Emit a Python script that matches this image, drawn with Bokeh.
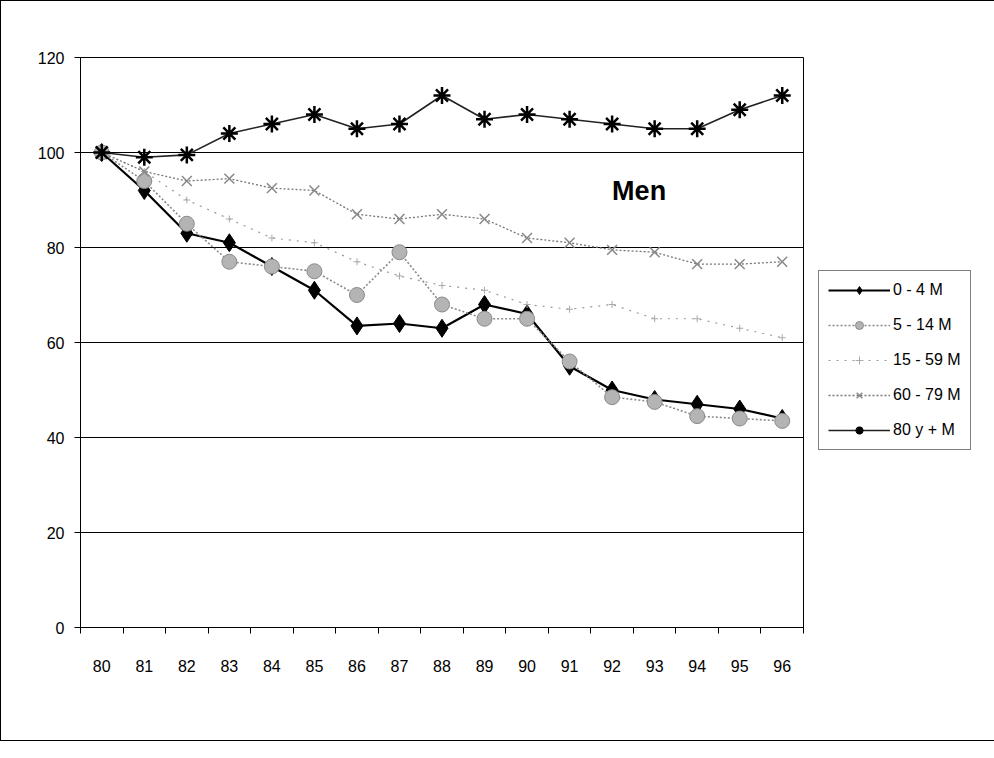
from bokeh.plotting import figure
from bokeh.models import Legend, LegendItem, FixedTicker, Label
from bokeh.embed import file_html
from bokeh.resources import INLINE

years = [80, 81, 82, 83, 84, 85, 86, 87, 88, 89, 90, 91, 92, 93, 94, 95, 96]
year_labels = [str(y) for y in years]

m_0_4 = [100, 92, 83, 81, 76, 71, 63.5, 64, 63, 68, 66, 55, 50, 48, 47, 46, 44]
m_5_14 = [100, 94, 85, 77, 76, 75, 70, 79, 68, 65, 65, 56, 48.5, 47.5, 44.5, 44, 43.5]
m_15_59 = [100, 96, 90, 86, 82, 81, 77, 74, 72, 71, 68, 67, 68, 65, 65, 63, 61]
m_60_79 = [100, 96, 94, 94.5, 92.5, 92, 87, 86, 87, 86, 82, 81, 79.5, 79, 76.5, 76.5, 77]
m_80p = [100, 99, 99.5, 104, 106, 108, 105, 106, 112, 107, 108, 107, 106, 105, 105, 109, 112]

series_names = ["0 - 4 M", "5 - 14 M", "15 - 59 M", "60 - 79 M", "80 y + M"]
y_ticks = [0, 20, 40, 60, 80, 100, 120]

FONT = "Liberation Sans"

p = figure(frame_width=723, frame_height=570, output_backend="svg", toolbar_location=None,
           x_range=(79.5, 96.5), y_range=(0, 120),
           min_border_left=79, min_border_top=56, min_border_right=176, min_border_bottom=113)
p.styles = {"border": "1px solid black"}
p.outline_line_color = "black"
p.outline_line_width = 1
p.xgrid.grid_line_color = None
p.ygrid.grid_line_color = "black"
p.ygrid.grid_line_width = 1

p.yaxis.ticker = FixedTicker(ticks=y_ticks)
p.yaxis.major_tick_out = 6
p.yaxis.major_tick_in = 0
p.yaxis.minor_tick_out = 0
p.yaxis.minor_tick_in = 0
p.yaxis.major_label_standoff = 10
p.yaxis.axis_line_color = "black"
p.yaxis.major_label_text_font = FONT
p.yaxis.major_label_text_font_size = "16px"
p.yaxis.major_label_text_color = "black"

p.xaxis.ticker = FixedTicker(ticks=years, minor_ticks=[y - 0.5 for y in years] + [years[-1] + 0.5])
p.xaxis.major_label_overrides = {y: l for y, l in zip(years, year_labels)}
p.xaxis.major_tick_out = 0
p.xaxis.major_tick_in = 0
p.xaxis.minor_tick_out = 6
p.xaxis.minor_tick_in = 0
p.xaxis.minor_tick_line_color = "black"
p.xaxis.major_label_standoff = 26
p.xaxis.axis_line_color = "black"
p.xaxis.major_label_text_font = FONT
p.xaxis.major_label_text_font_size = "16px"
p.xaxis.major_label_text_color = "black"

items = []

r1 = p.line(years, m_0_4, line_color="black", line_width=2.2)
s1 = p.scatter(years, m_0_4, marker="diamond", size=18, fill_color="black", line_color="black")
items.append(LegendItem(label=series_names[0], renderers=[r1, s1]))

r2 = p.line(years, m_5_14, line_color="#8a8a8a", line_width=1.6, line_dash="2 2")
s2 = p.scatter(years, m_5_14, marker="circle", size=15, fill_color="#b4b4b4", line_color="#8a8a8a")
items.append(LegendItem(label=series_names[1], renderers=[r2, s2]))

r3 = p.line(years, m_15_59, line_color="#9a9a9a", line_width=1.2, line_dash="2 6")
s3 = p.scatter(years, m_15_59, marker="cross", size=7, line_color="#aaaaaa", line_width=1)
items.append(LegendItem(label=series_names[2], renderers=[r3, s3]))

r4 = p.line(years, m_60_79, line_color="#777777", line_width=1.3, line_dash="2 2")
s4 = p.scatter(years, m_60_79, marker="x", size=14, line_color="#888888", line_width=1.5)
items.append(LegendItem(label=series_names[3], renderers=[r4, s4]))

r5 = p.line(years, m_80p, line_color="#222222", line_width=1.6)
s5 = p.scatter(years, m_80p, marker="asterisk", size=17, line_color="black", line_width=2.5)
items.append(LegendItem(label=series_names[4], renderers=[r5, s5]))

legend = Legend(items=items, location=(15, 177), border_line_color="black", border_line_width=1,
                background_fill_color="white", background_fill_alpha=1,
                label_text_font=FONT, label_text_font_size="16px", label_text_color="black",
                glyph_width=62, glyph_height=20, label_height=20, spacing=15, padding=9,
                label_standoff=3, margin=0)
p.add_layout(legend, "right")

p.add_layout(Label(x=92, y=92, text="Men", text_font=FONT, text_font_size="27px",
                   text_font_style="bold", text_baseline="middle", text_align="left",
                   text_color="black"))

open("out.html", "w").write(file_html(p, INLINE))
